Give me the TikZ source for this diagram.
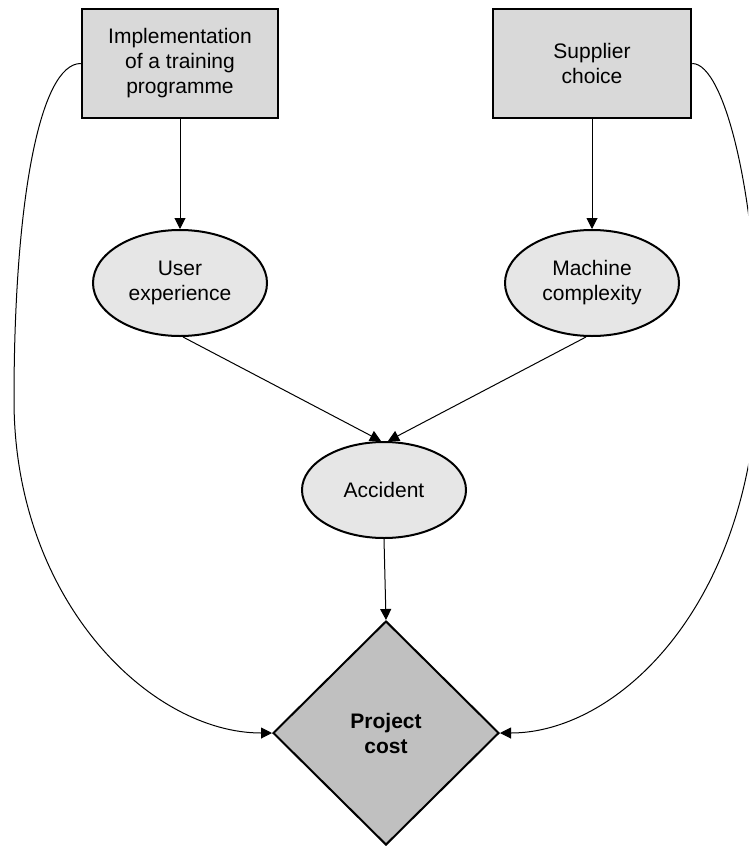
\documentclass[tikz,border=0pt]{standalone}
\usepackage{fontspec}
\setmainfont{Liberation Sans}
\usetikzlibrary{shapes.geometric,arrows.meta}
\definecolor{boxfill}{HTML}{D9D9D9}
\definecolor{ellfill}{HTML}{E6E6E6}
\definecolor{diafill}{HTML}{C0C0C0}
\begin{document}
\begin{tikzpicture}[x=1pt,y=-1pt,
  every node/.style={font=\fontsize{21}{25}\selectfont, align=center, inner sep=0pt},
  decbox/.style={rectangle, draw, line width=2.5pt, fill=boxfill},
  chance/.style={ellipse, draw, line width=2pt, fill=ellfill},
  util/.style={diamond, draw, line width=2pt, fill=diafill, font=\fontsize{21}{25}\selectfont\bfseries},
  arr/.style={-{Triangle[length=11pt,width=11pt]}, line width=1pt}]
\useasboundingbox (0,0) rectangle (748,846);
\clip (0,0) rectangle (748,846);
\node[decbox, minimum width=196pt, minimum height=109pt] (lb) at (180,63.5) {Implementation\\of a training\\programme};
\node[decbox, minimum width=198pt, minimum height=109pt] (rb) at (592,63.5) {Supplier\\choice};
\node[chance, minimum width=174pt, minimum height=106pt] (ue) at (180,283) {User\\experience};
\node[chance, minimum width=174pt, minimum height=106pt] (mc) at (592,283) {Machine\\complexity};
\node[chance, minimum width=164pt, minimum height=96pt] (acc) at (384,490) {Accident};
\node[util, minimum width=226pt, minimum height=224pt] (pc) at (386,733) {Project\\cost};
\draw[arr] (lb.south) -- (ue.north);
\draw[arr] (rb.south) -- (mc.north);
\draw[arr] ([xshift=3pt]ue.south) -- ([xshift=-3pt]acc.north);
\draw[arr] ([xshift=-6pt]mc.south) -- ([xshift=4pt]acc.north);
\draw[arr] (acc.south) -- (pc.north);
\draw[arr] (lb.west) .. controls (40,63.5) and (14,200) .. (14,400) .. controls (14,600) and (150,733) .. (pc.west);
\draw[arr] (rb.east) .. controls (725,63.5) and (758,200) .. (758,360) .. controls (758,600) and (620,733) .. (pc.east);
\end{tikzpicture}
\end{document}
